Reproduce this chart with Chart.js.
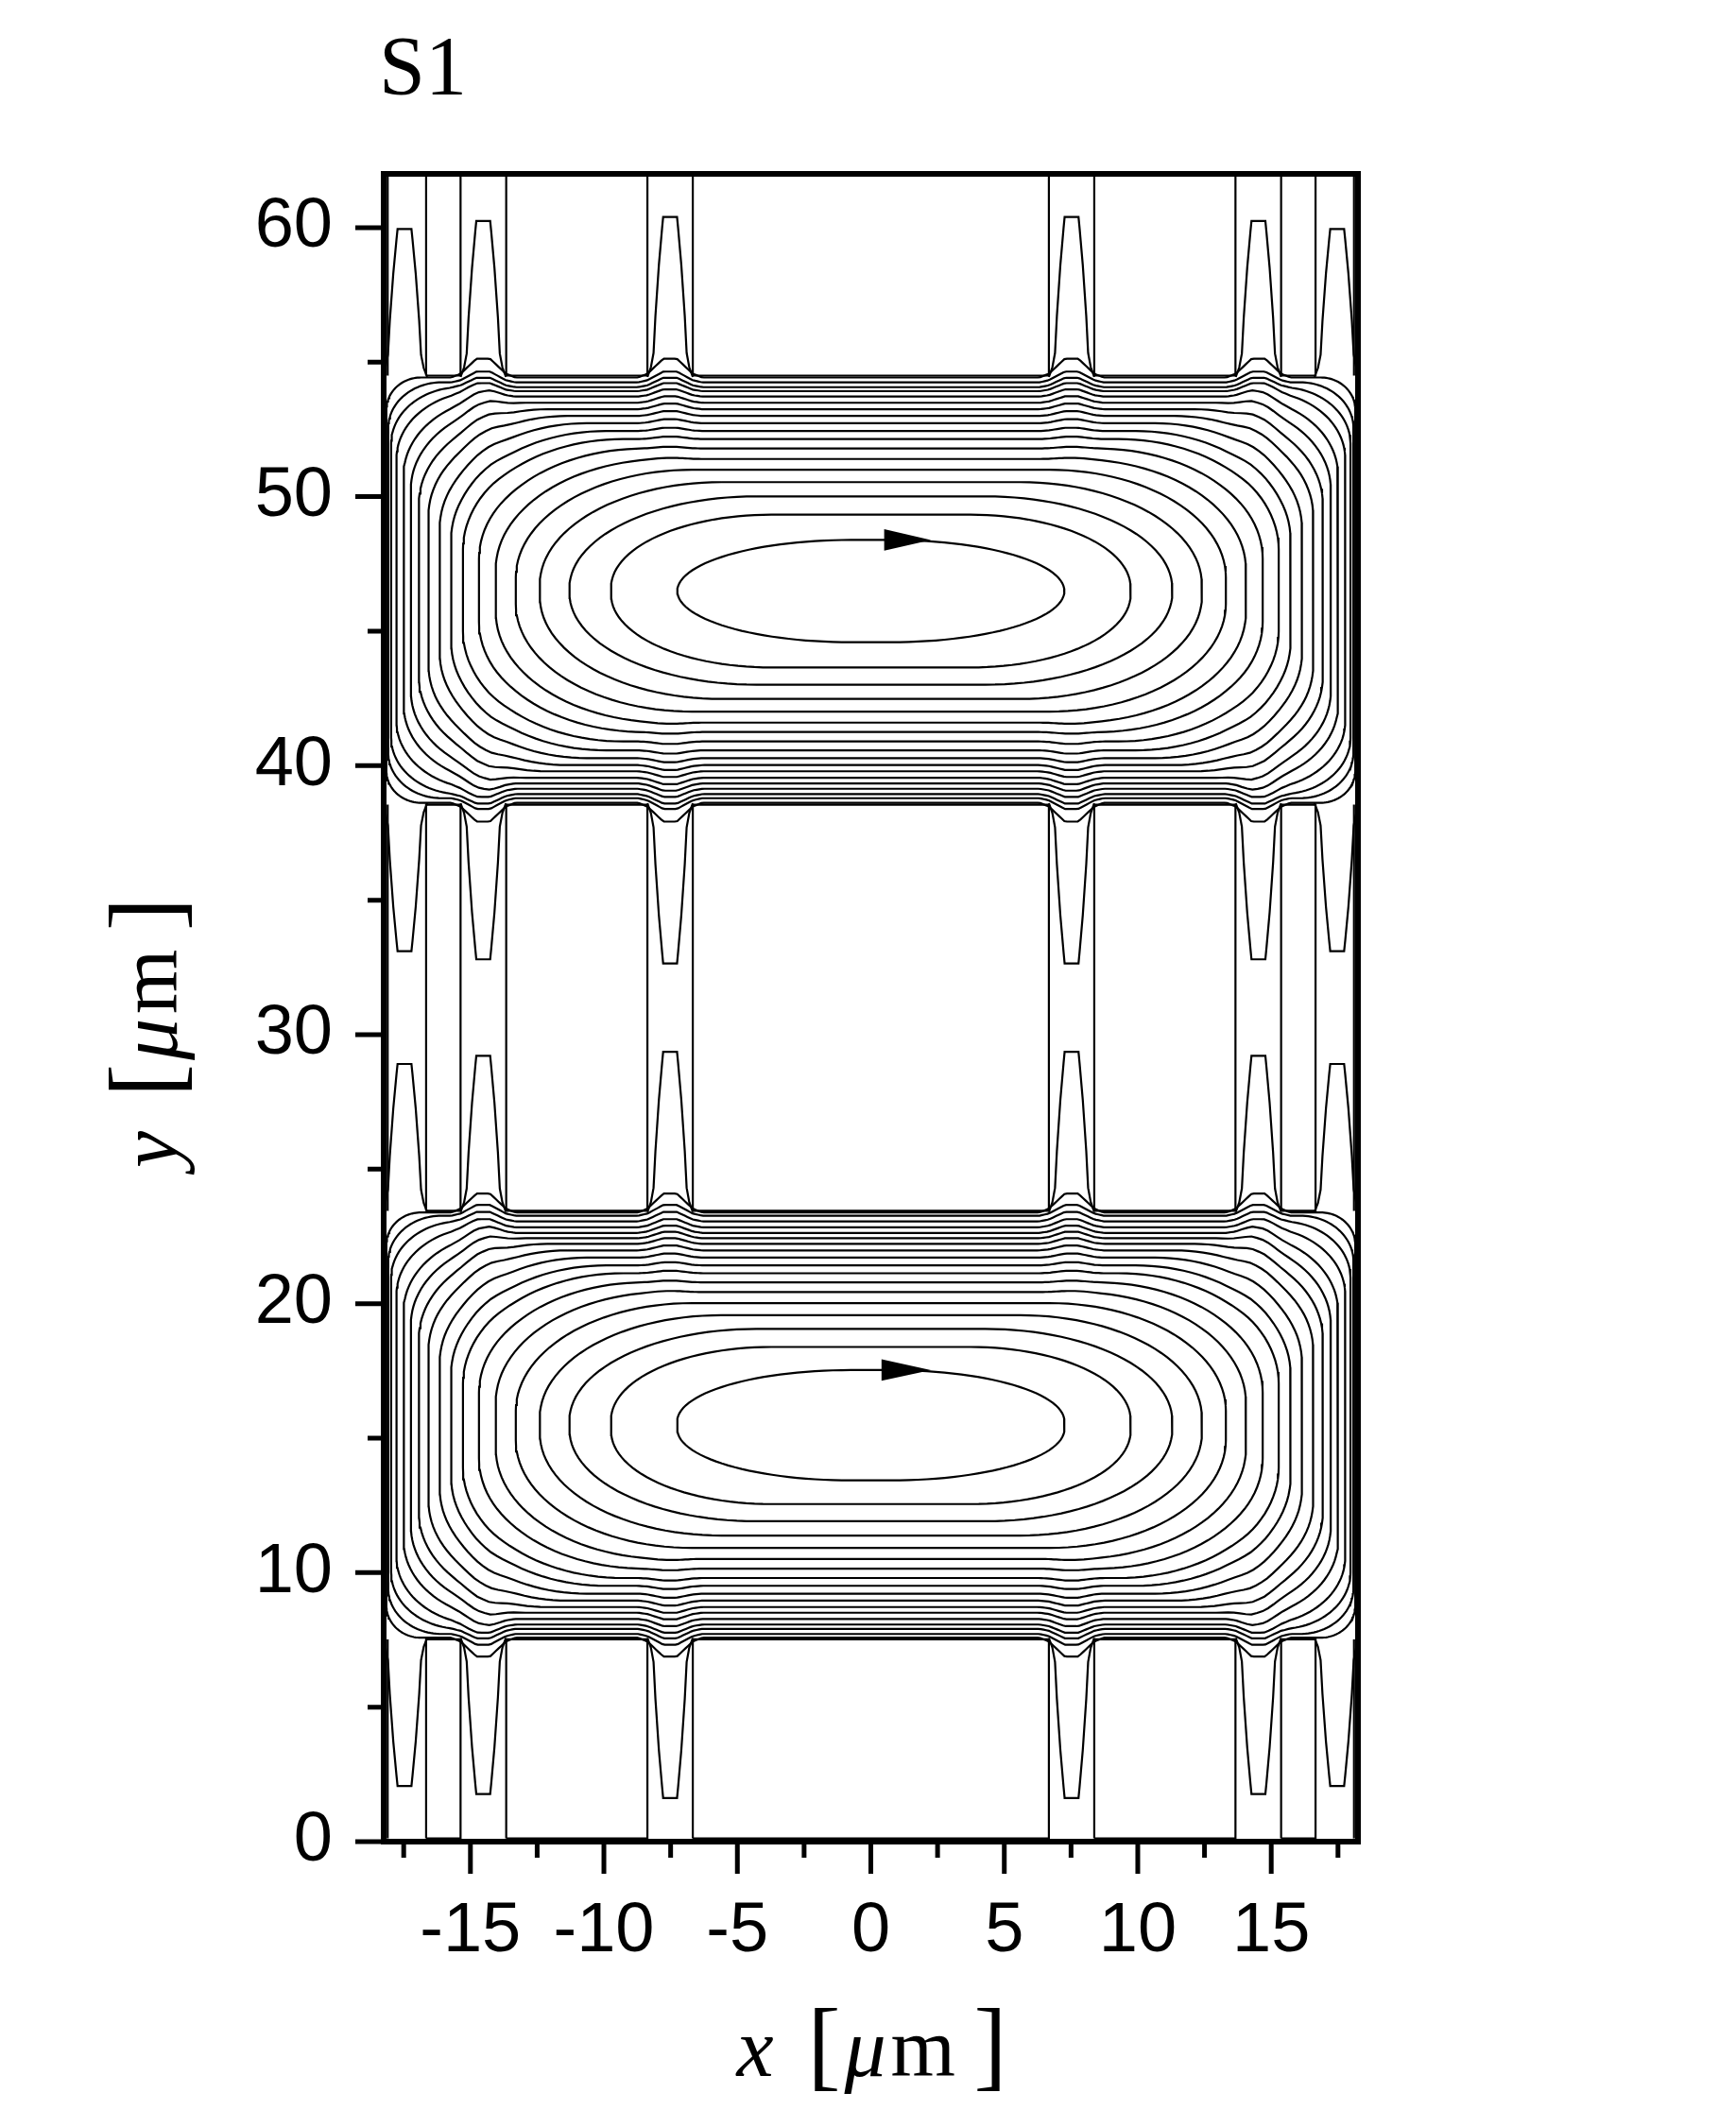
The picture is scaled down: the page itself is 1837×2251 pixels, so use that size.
<!DOCTYPE html>
<html>
<head>
<meta charset="utf-8">
<script src="https://cdn.jsdelivr.net/npm/chart.js@4.4.1/dist/chart.umd.min.js"></script>
<style>
html, body { margin: 0; padding: 0; background: #fff; }
#wrap { width: 1837px; height: 2251px; position: relative; }
</style>
</head>
<body>
<div id="wrap"><canvas id="plot"></canvas></div>
<script>
// axes
var xRange = [-18.25, 18.25];
var yRange = [0, 62];
var xMajor = [-15, -10, -5, 0, 5, 10, 15];
var xMinor = [-17.5, -12.5, -7.5, -2.5, 2.5, 7.5, 12.5, 17.5];
var yMajor = [0, 10, 20, 30, 40, 50, 60];
var yMinor = [5, 15, 25, 35, 45, 55];

// closed streamlines of the two cells, inner -> outer
var loopHalfWidth = [7.25, 9.73, 11.29, 12.4, 13.3, 14.05, 14.68, 15.28, 15.72, 16.15, 16.57, 16.93, 17.23, 17.5, 17.77, 17.97, 18.08, 18.15];
var upperTop    = [48.39, 49.33, 50.01, 50.54, 51.0, 51.4, 51.79, 52.14, 52.44, 52.73, 53.0, 53.25, 53.49, 53.72, 53.92, 54.07, 54.25, 54.43];
var upperBottom = [44.59, 43.65, 43.01, 42.48, 42.01, 41.6, 41.25, 40.9, 40.57, 40.28, 40.02, 39.79, 39.55, 39.34, 39.14, 38.94, 38.79, 38.62];
var lowerTop    = [17.53, 18.39, 19.06, 19.57, 20.02, 20.43, 20.79, 21.13, 21.42, 21.71, 21.98, 22.22, 22.43, 22.63, 22.84, 23.06, 23.27, 23.39];
var lowerBottom = [13.43, 12.55, 11.91, 11.38, 10.92, 10.51, 10.15, 9.8, 9.51, 9.22, 8.96, 8.72, 8.51, 8.28, 8.07, 7.91, 7.72, 7.58];
var cornerRx = [6.5, 6.0, 7.0, 6.8, 6.6, 6.4, 6.2, 6.0, 5.8, 5.5, 5.2, 4.8, 4.3, 3.8, 3.2, 2.6, 2.0, 1.3];
var cornerRy = [1.9, 2.7, 3.4, 3.8, 4.0, 4.1, 4.1, 4.1, 4.0, 3.9, 3.7, 3.5, 3.2, 2.9, 2.5, 2.1, 1.7, 1.2];
// small bulges of the loops into the gaps
var bumpHeight = [0, 0, 0, 0, 0, 0.04, 0.06, 0.09, 0.12, 0.15, 0.18, 0.21, 0.24, 0.27, 0.3, 0.35, 0.4, 0.7];
var bumpCenters = [-14.52, -7.52, 7.52, 14.52];
var bumpDx = [-1.2, -0.85, -0.25, 0.25, 0.85, 1.2];
var bumpShape = [0, 0.2, 1, 1, 0.2, 0];

// gaps between the cells
var gapBottom = [54.5, 23.45, 0.12];
var gapTop = [62, 38.55, 7.52];
var boxLeft = [-16.66, -13.66, -6.67, 8.37, 15.37];
var boxRight = [-15.37, -8.37, 6.67, 13.66, 16.66];
var wallX = [-18.1, 18.1];

// tear shaped contours pointing away from the cells
var tearCenters = [-17.47, -14.52, -7.52, 7.52, 14.52, 17.47];
var tearLength = [5.5, 5.8, 5.95, 5.95, 5.8, 5.5];
var tearBaseY = [54.45, 38.6, 23.41, 7.57];
var tearDir = [1, -1, 1, -1];
var tearFrac = [0, 0.06, 0.15, 0.38, 0.7, 0.93, 1];
var tearHalf = [0.85, 0.72, 0.62, 0.55, 0.42, 0.3, 0.26];

// flow direction arrows
var arrowY = [48.39, 17.53];
var arrowBase = [0.5, 0.4];
var arrowTip = [2.25, 2.25];
var arrowHalf = 0.4;

var black = '#000';
var sans = "'Liberation Sans', Arial, sans-serif";
var serif = "'Liberation Serif', 'Times New Roman', serif";

function bumpAt(x) {
    var s = 0;
    for (var c = 0; c < bumpCenters.length; c++) {
        var d = x - bumpCenters[c];
        if (d <= bumpDx[0] || d >= bumpDx[bumpDx.length - 1]) continue;
        for (var k = 0; k < bumpDx.length - 1; k++) {
            if (d >= bumpDx[k] && d <= bumpDx[k + 1]) {
                var f = (d - bumpDx[k]) / (bumpDx[k + 1] - bumpDx[k]);
                s += bumpShape[k] + f * (bumpShape[k + 1] - bumpShape[k]);
                break;
            }
        }
    }
    return s;
}

function loopOutline(top, bottom, a, rx, ry, amp) {
    var pts = [], xs = a - rx, n = 30, x, t, k, s;
    for (x = -xs; x < xs; x += 0.1) pts.push({x: x, y: top + amp * bumpAt(x)});
    for (k = 0; k <= n; k++) {
        t = Math.PI / 2 * (1 - k / n);
        x = xs + rx * Math.cos(t); s = Math.sin(t);
        pts.push({x: x, y: top - ry + ry * s + amp * bumpAt(x) * s});
    }
    for (k = 0; k <= n; k++) {
        t = -Math.PI / 2 * k / n;
        x = xs + rx * Math.cos(t); s = Math.sin(t);
        pts.push({x: x, y: bottom + ry + ry * s + amp * bumpAt(x) * s});
    }
    for (x = xs; x > -xs; x -= 0.1) pts.push({x: x, y: bottom - amp * bumpAt(x)});
    for (k = 0; k <= n; k++) {
        t = -Math.PI / 2 - Math.PI / 2 * k / n;
        x = -xs + rx * Math.cos(t); s = Math.sin(t);
        pts.push({x: x, y: bottom + ry + ry * s + amp * bumpAt(x) * s});
    }
    for (k = 0; k <= n; k++) {
        t = Math.PI - Math.PI / 2 * k / n;
        x = -xs + rx * Math.cos(t); s = Math.sin(t);
        pts.push({x: x, y: top - ry + ry * s + amp * bumpAt(x) * s});
    }
    pts.push(pts[0]);
    return pts;
}

function lineSet(pts) {
    return {
        data: pts, showLine: true, fill: false, borderColor: black, borderWidth: 2.2,
        pointRadius: 0, pointHoverRadius: 0, tension: 0
    };
}

var datasets = [];
for (var i = 0; i < loopHalfWidth.length; i++) {
    datasets.push(lineSet(loopOutline(upperTop[i], upperBottom[i], loopHalfWidth[i], cornerRx[i], cornerRy[i], bumpHeight[i])));
    datasets.push(lineSet(loopOutline(lowerTop[i], lowerBottom[i], loopHalfWidth[i], cornerRx[i], cornerRy[i], bumpHeight[i])));
}
for (var g = 0; g < gapBottom.length; g++) {
    for (var b = 0; b < boxLeft.length; b++) {
        datasets.push(lineSet([
            {x: boxLeft[b], y: gapBottom[g]}, {x: boxRight[b], y: gapBottom[g]},
            {x: boxRight[b], y: gapTop[g]}, {x: boxLeft[b], y: gapTop[g]},
            {x: boxLeft[b], y: gapBottom[g]}
        ]));
    }
    for (var w = 0; w < wallX.length; w++) {
        datasets.push(lineSet([{x: wallX[w], y: gapBottom[g]}, {x: wallX[w], y: gapTop[g]}]));
    }
}
for (var j = 0; j < tearBaseY.length; j++) {
    for (var c = 0; c < tearCenters.length; c++) {
        var tp = [], k;
        for (k = 0; k < tearFrac.length; k++)
            tp.push({x: tearCenters[c] - tearHalf[k], y: tearBaseY[j] + tearDir[j] * tearLength[c] * tearFrac[k]});
        for (k = tearFrac.length - 1; k >= 0; k--)
            tp.push({x: tearCenters[c] + tearHalf[k], y: tearBaseY[j] + tearDir[j] * tearLength[c] * tearFrac[k]});
        datasets.push(lineSet(tp));
    }
}

function drawUnitTitle(ctx, letter) {
    ctx.fillStyle = black;
    ctx.textAlign = 'left';
    ctx.textBaseline = 'alphabetic';
    ctx.font = 'italic 88px ' + serif;
    ctx.fillText(letter, -142, 0);
    ctx.font = '105px ' + serif;
    ctx.fillText('[', -67, 2);
    ctx.font = 'italic 88px ' + serif;
    ctx.fillText('\u03bc', -28, 0);
    ctx.font = '88px ' + serif;
    ctx.fillText('m', 21, 0);
    ctx.font = '105px ' + serif;
    ctx.fillText(']', 109, 2);
}

var decor = {
    id: 'decor',
    afterDraw: function(chart) {
        var ctx = chart.ctx, xs = chart.scales.x, ys = chart.scales.y, a = chart.chartArea;
        ctx.save();
        // arrows
        ctx.fillStyle = black;
        for (var i = 0; i < arrowY.length; i++) {
            ctx.beginPath();
            ctx.moveTo(xs.getPixelForValue(arrowBase[i]), ys.getPixelForValue(arrowY[i] + arrowHalf));
            ctx.lineTo(xs.getPixelForValue(arrowTip[i]), ys.getPixelForValue(arrowY[i]));
            ctx.lineTo(xs.getPixelForValue(arrowBase[i]), ys.getPixelForValue(arrowY[i] - arrowHalf));
            ctx.closePath();
            ctx.fill();
        }
        // frame
        ctx.strokeStyle = black;
        ctx.lineWidth = 6;
        ctx.strokeRect(a.left, a.top, a.right - a.left, a.bottom - a.top);
        // ticks
        ctx.lineWidth = 5;
        ctx.beginPath();
        xMajor.forEach(function(v) { var p = xs.getPixelForValue(v); ctx.moveTo(p, a.bottom); ctx.lineTo(p, a.bottom + 34); });
        xMinor.forEach(function(v) { var p = xs.getPixelForValue(v); ctx.moveTo(p, a.bottom); ctx.lineTo(p, a.bottom + 17); });
        yMajor.forEach(function(v) { var p = ys.getPixelForValue(v); ctx.moveTo(a.left, p); ctx.lineTo(a.left - 30, p); });
        yMinor.forEach(function(v) { var p = ys.getPixelForValue(v); ctx.moveTo(a.left, p); ctx.lineTo(a.left - 17, p); });
        ctx.stroke();
        // titles
        var cx = (a.left + a.right) / 2;
        ctx.save();
        ctx.translate(cx, 2197);
        drawUnitTitle(ctx, 'x');
        ctx.restore();
        ctx.save();
        ctx.translate(187, 1094);
        ctx.rotate(-Math.PI / 2);
        drawUnitTitle(ctx, 'y');
        ctx.restore();
        ctx.fillStyle = black;
        ctx.font = '88px ' + serif;
        ctx.textAlign = 'left';
        ctx.textBaseline = 'alphabetic';
        ctx.fillText('S1', 401, 99);
        ctx.restore();
    }
};

new Chart(document.getElementById('plot'), {
    type: 'scatter',
    data: {datasets: datasets},
    plugins: [decor],
    options: {
        responsive: true,
        maintainAspectRatio: false,
        animation: false,
        events: [],
        layout: {padding: {top: 184, right: 400, bottom: 0, left: 0}},
        plugins: {legend: {display: false}, tooltip: {enabled: false}},
        scales: {
            x: {
                type: 'linear', position: 'bottom', min: xRange[0], max: xRange[1],
                afterFit: function(s) { s.height = 302; },
                afterBuildTicks: function(s) { s.ticks = xMajor.map(function(v) { return {value: v}; }); },
                grid: {display: true, drawOnChartArea: false, drawTicks: true, tickLength: 30, color: 'rgba(0,0,0,0)'},
                border: {display: false},
                ticks: {
                    autoSkip: false, maxRotation: 0, padding: 21, color: black,
                    font: {family: sans, size: 74},
                    callback: function(v) { return String(v); }
                }
            },
            y: {
                type: 'linear', position: 'left', min: yRange[0], max: yRange[1],
                afterFit: function(s) { s.width = 406; },
                afterBuildTicks: function(s) { s.ticks = yMajor.map(function(v) { return {value: v}; }); },
                grid: {display: true, drawOnChartArea: false, drawTicks: true, tickLength: 30, color: 'rgba(0,0,0,0)'},
                border: {display: false},
                ticks: {
                    autoSkip: false, padding: 24, color: black,
                    font: {family: sans, size: 74},
                    callback: function(v) { return String(v); }
                }
            }
        }
    }
});
</script>
</body>
</html>
